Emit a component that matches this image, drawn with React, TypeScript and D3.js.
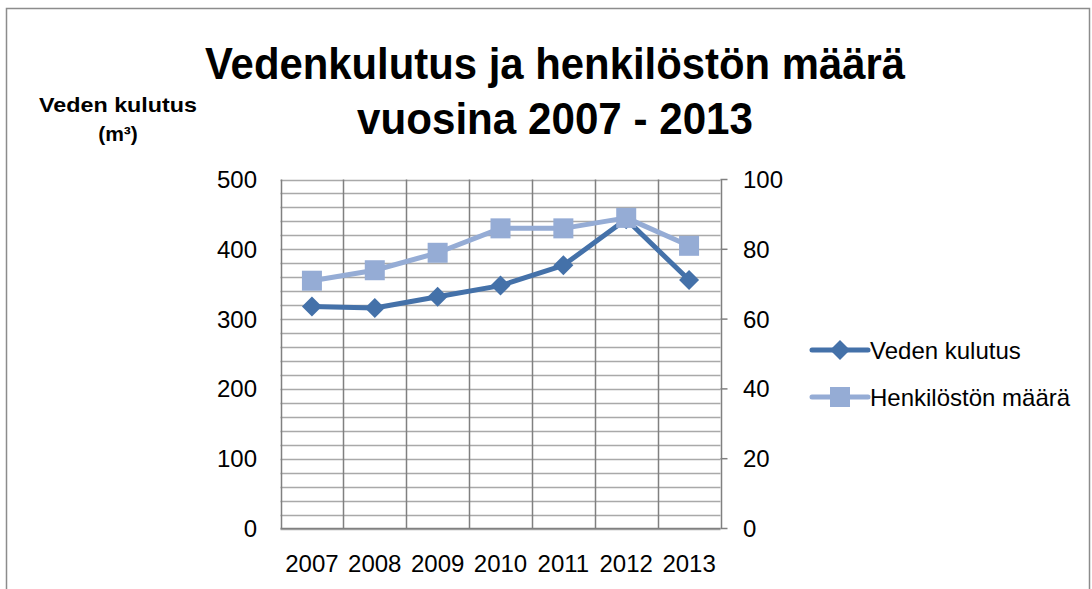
import React from 'react';
import * as d3 from 'd3';

const years = ['2007', '2008', '2009', '2010', '2011', '2012', '2013'];
const vedenKulutus = [318, 316, 332, 348, 377, 443, 356];
const henkilosto = [71, 74, 79, 86, 86, 89, 81];
const leftTicks = [0, 100, 200, 300, 400, 500];
const rightTicks = [0, 20, 40, 60, 80, 100];
const titleLines = ['Vedenkulutus ja henkilöstön määrä', 'vuosina 2007 - 2013'];
const seriesNames = ['Veden kulutus', 'Henkilöstön määrä'];

const W = 1092;
const H = 589;
const plot = { left: 280.5, right: 720.5, top: 179.5, bottom: 528.5 };
const DARK = '#4471A9';
const LIGHT = '#95ACD5';
const FONT = '"Liberation Sans", Arial, sans-serif';

export default function App() {
  const x = d3.scaleBand().domain(years).range([plot.left, plot.right]).padding(0);
  const yL = d3.scaleLinear().domain([0, 500]).range([plot.bottom, plot.top]);
  const yR = d3.scaleLinear().domain([0, 100]).range([plot.bottom, plot.top]);
  const cx = (d: string) => (x(d) as number) + x.bandwidth() / 2;

  const lineL = d3.line<number>().x((_, i) => cx(years[i])).y(v => yL(v));
  const lineR = d3.line<number>().x((_, i) => cx(years[i])).y(v => yR(v));

  // minor gridlines every 20 units on the left axis
  const minorGrid = d3.range(0, 501, 20);
  const bounds = years.map(y => x(y) as number).concat([plot.right]);

  const diamond = (px: number, py: number, r: number) =>
    `M${px},${py - r}L${px + r},${py}L${px},${py + r}L${px - r},${py}Z`;

  return (
    <div style={{ position: 'fixed', left: 0, top: 0 }}>
      <svg width={W} height={H} style={{ display: 'block', background: '#fff' }}>
        <rect x={6.5} y={8.5} width={1083} height={620} fill="#fff" stroke="#8c8c8c" strokeWidth={1.5} />

        {/* title */}
        <text x={555} y={79} textAnchor="middle" fontFamily={FONT} fontWeight="bold" fontSize={45}
          textLength={700} lengthAdjust="spacingAndGlyphs" fill="#000">{titleLines[0]}</text>
        <text x={555} y={134} textAnchor="middle" fontFamily={FONT} fontWeight="bold" fontSize={45}
          textLength={396} lengthAdjust="spacingAndGlyphs" fill="#000">{titleLines[1]}</text>

        {/* y axis title */}
        <text x={118} y={112} textAnchor="middle" fontFamily={FONT} fontWeight="bold" fontSize={21}
          textLength={158} lengthAdjust="spacingAndGlyphs">Veden kulutus</text>
        <text x={118} y={141} textAnchor="middle" fontFamily={FONT} fontWeight="bold" fontSize={21}>(m³)</text>

        {/* grid */}
        {minorGrid.map(v => (
          <line key={'h' + v} x1={plot.left} x2={plot.right} y1={Math.round(yL(v)) + 0.5} y2={Math.round(yL(v)) + 0.5}
            stroke="#a9a9a9" strokeWidth={1.5} />
        ))}
        {bounds.map((b, i) => (
          <line key={'v' + i} x1={Math.round(b) + 0.5} x2={Math.round(b) + 0.5} y1={plot.top} y2={plot.bottom}
            stroke="#808080" strokeWidth={1.5} />
        ))}
        <line x1={plot.left} x2={plot.right} y1={plot.bottom} y2={plot.bottom} stroke="#808080" strokeWidth={1.5} />
        {rightTicks.map(v => (
          <line key={'rt' + v} x1={plot.right} x2={plot.right + 7} y1={yR(v)} y2={yR(v)} stroke="#808080" strokeWidth={1.5} />
        ))}

        {/* tick labels */}
        {leftTicks.map(v => (
          <text key={'l' + v} x={257} y={yL(v) + 8.5} textAnchor="end" fontFamily={FONT} fontSize={24}>{v}</text>
        ))}
        {rightTicks.map(v => (
          <text key={'r' + v} x={743} y={yR(v) + 8.5} textAnchor="start" fontFamily={FONT} fontSize={24}>{v}</text>
        ))}
        {years.map(y => (
          <text key={'x' + y} x={cx(y)} y={572} textAnchor="middle" fontFamily={FONT} fontSize={24}>{y}</text>
        ))}

        {/* series */}
        <path d={lineL(vedenKulutus) || ''} fill="none" stroke={DARK} strokeWidth={5} strokeLinejoin="round" />
        {vedenKulutus.map((v, i) => (
          <path key={'d' + i} d={diamond(cx(years[i]), yL(v), 10)} fill={DARK} />
        ))}
        <path d={lineR(henkilosto) || ''} fill="none" stroke={LIGHT} strokeWidth={5} strokeLinejoin="round" />
        {henkilosto.map((v, i) => (
          <rect key={'s' + i} x={cx(years[i]) - 10} y={yR(v) - 10} width={20} height={20} fill={LIGHT} />
        ))}

        {/* legend */}
        <line x1={812} x2={868} y1={350} y2={350} stroke={DARK} strokeWidth={5} strokeLinecap="round" />
        <path d={diamond(840, 350, 10)} fill={DARK} />
        <text x={870} y={358.5} fontFamily={FONT} fontSize={24}>{seriesNames[0]}</text>
        <line x1={812} x2={868} y1={397} y2={397} stroke={LIGHT} strokeWidth={5} strokeLinecap="round" />
        <rect x={830} y={387} width={20} height={20} fill={LIGHT} />
        <text x={870} y={405.5} fontFamily={FONT} fontSize={24}>{seriesNames[1]}</text>
      </svg>
    </div>
  );
}
